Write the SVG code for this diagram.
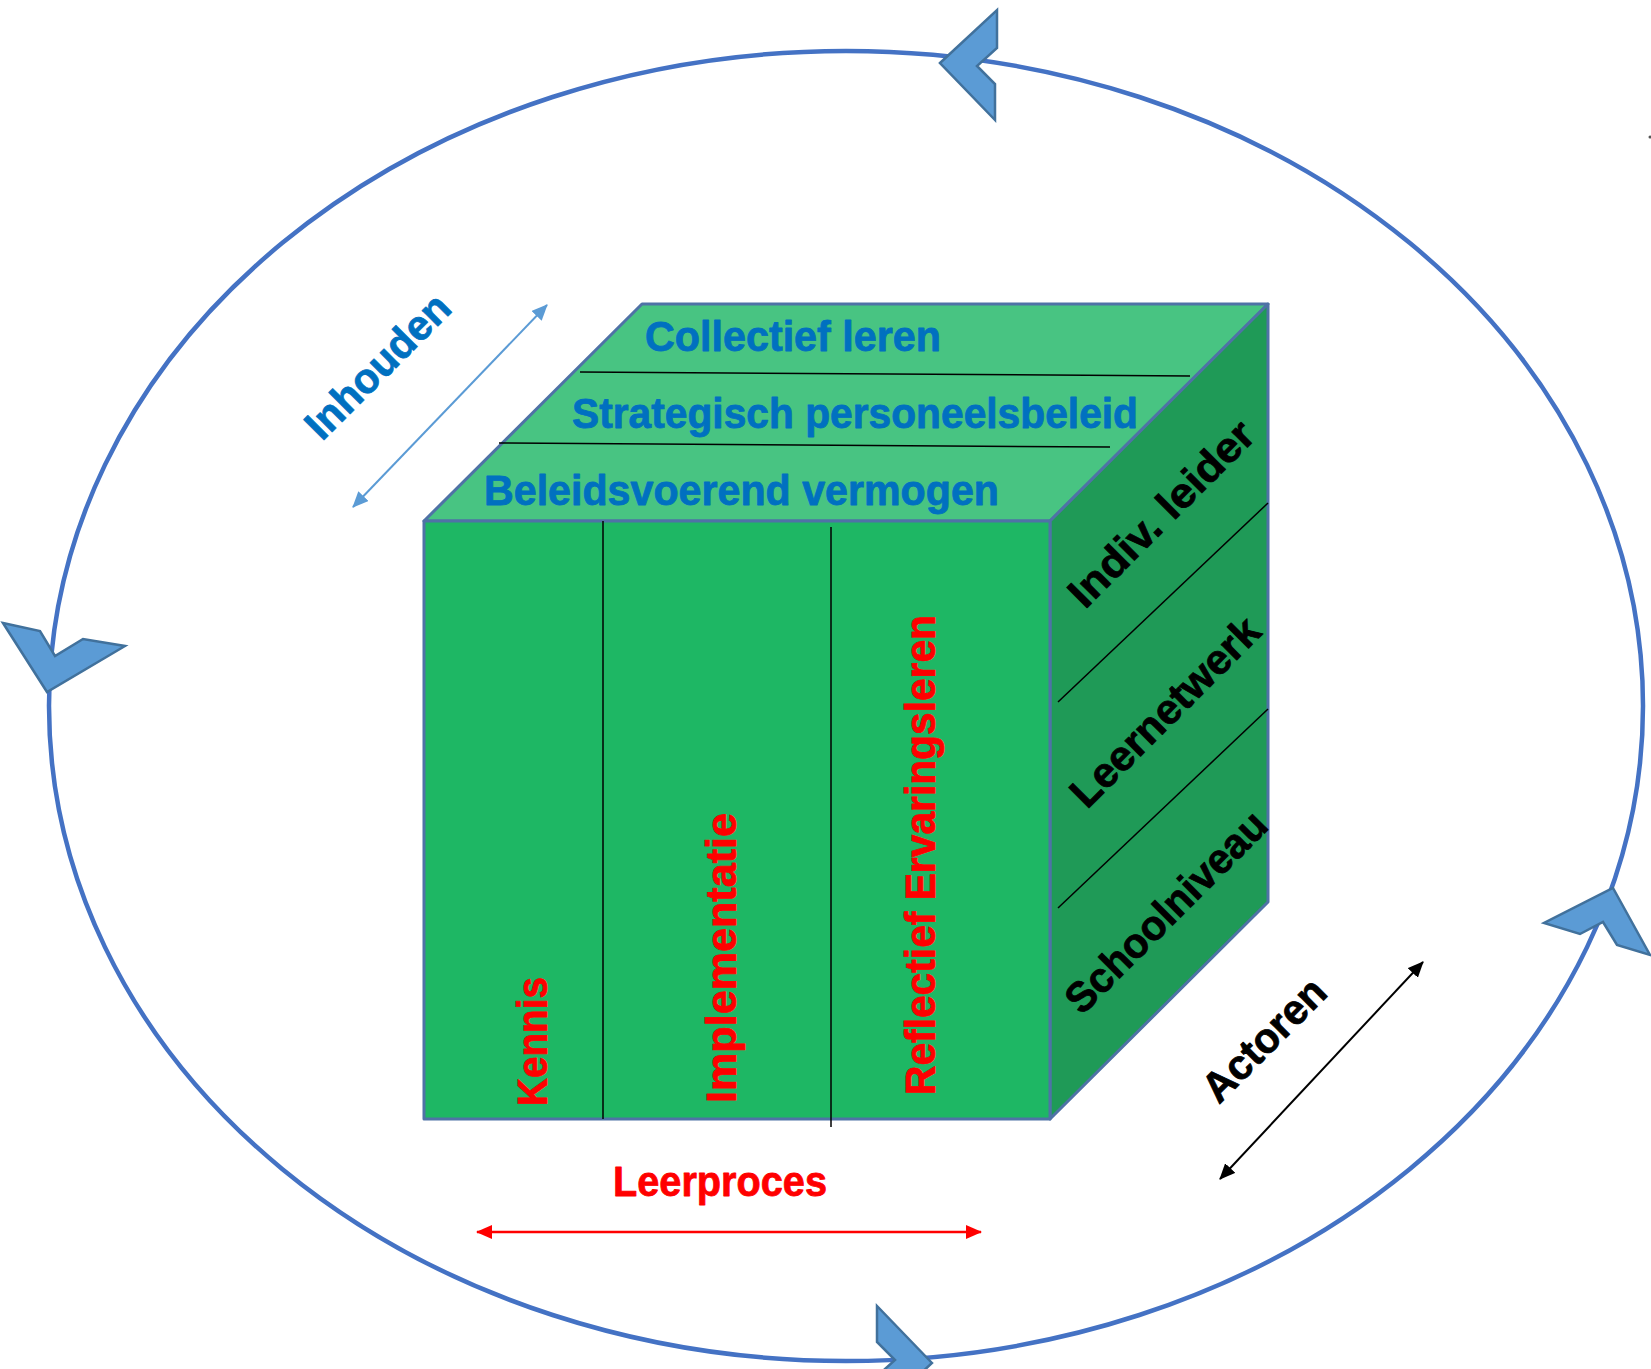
<svg xmlns="http://www.w3.org/2000/svg" width="1651" height="1369" viewBox="0 0 1651 1369">
<defs>
<style>
.t{font-family:"Liberation Sans",Arial,sans-serif;font-weight:bold;font-size:42px;stroke-width:0.8;stroke-linejoin:round}
.blue{fill:#0070C0;stroke:#0070C0}
.red{fill:#FF0000;stroke:#FF0000}
.blk{fill:#000000;stroke:#000000}
.edge{stroke:#4F72A6;stroke-width:3;stroke-linejoin:round}
.div{stroke:#000000;stroke-width:1.5;fill:none}
.chev{fill:#5B9BD5;stroke:#41719C;stroke-width:2.5;stroke-linejoin:miter}
</style>
<marker id="ahBlue" viewBox="0 0 16 14" markerWidth="16" markerHeight="14" refX="15" refY="7" orient="auto-start-reverse" markerUnits="userSpaceOnUse"><path d="M0,0 L16,7 L0,14 Z" fill="#5B9BD5"/></marker>
<marker id="ahBlack" viewBox="0 0 16 14" markerWidth="16" markerHeight="14" refX="15" refY="7" orient="auto-start-reverse" markerUnits="userSpaceOnUse"><path d="M0,0 L16,7 L0,14 Z" fill="#000000"/></marker>
<marker id="ahRed" viewBox="0 0 16 14" markerWidth="16" markerHeight="14" refX="15" refY="7" orient="auto-start-reverse" markerUnits="userSpaceOnUse"><path d="M0,0 L16,7 L0,14 Z" fill="#FF0000"/></marker>
</defs>
<rect width="1651" height="1369" fill="#FFFFFF"/>

<g id="cycle">
<ellipse cx="846" cy="706" rx="797" ry="655" fill="none" stroke="#4472C4" stroke-width="4.5"/>
<polygon class="chev" points="940,63 997,10 997,48 977,66 995,84 995,120"/>
<polygon class="chev" points="3,623 40,631 55,656 83,639 125,646 47,692"/>
<polygon class="chev" points="1613,888 1650,955 1617,945 1603,922 1580,934 1544,923"/>
<polygon class="chev" points="932,1363 877,1306 877,1342 895,1360 875,1378 875,1416"/>
</g>

<g id="cube">
<g id="top-face">
<polygon class="edge" points="424,521 1050,521 1268,304 642,304" fill="#48C482"/>
<line class="div" x1="580" y1="372" x2="1190" y2="376"/>
<line class="div" x1="499" y1="443" x2="1110" y2="447"/>
<text class="t blue" x="645" y="351" textLength="296" lengthAdjust="spacingAndGlyphs">Collectief leren</text>
<text class="t blue" x="572" y="428" textLength="566" lengthAdjust="spacingAndGlyphs">Strategisch personeelsbeleid</text>
<text class="t blue" x="484" y="505" textLength="515" lengthAdjust="spacingAndGlyphs">Beleidsvoerend vermogen</text>
</g>
<g id="right-face">
<polygon class="edge" points="1050,521 1268,304 1268,902 1050,1119" fill="#1F9A57"/>
<line class="div" x1="1058" y1="702" x2="1268" y2="503"/>
<line class="div" x1="1058" y1="908" x2="1268" y2="709"/>
<text class="t blk" font-size="44" x="1085" y="610" transform="rotate(-45 1085 610)" textLength="244" lengthAdjust="spacingAndGlyphs">Indiv. leider</text>
<text class="t blk" font-size="44" x="1087" y="810" transform="rotate(-45 1087 810)" textLength="249" lengthAdjust="spacingAndGlyphs">Leernetwerk</text>
<text class="t blk" font-size="44" x="1082" y="1016" transform="rotate(-45 1082 1016)" textLength="266" lengthAdjust="spacingAndGlyphs">Schoolniveau</text>
</g>
<g id="front-face">
<rect class="edge" x="424" y="521" width="626" height="598" fill="#1EB764"/>
<line class="div" x1="603" y1="521" x2="603" y2="1119"/>
<line class="div" x1="831" y1="527" x2="831" y2="1127"/>
<text class="t red" font-size="44" x="547" y="1106" transform="rotate(-90 547 1106)" textLength="129" lengthAdjust="spacingAndGlyphs">Kennis</text>
<text class="t red" font-size="44" x="736" y="1103" transform="rotate(-90 736 1103)" textLength="290" lengthAdjust="spacingAndGlyphs">Implementatie</text>
<text class="t red" font-size="44" x="935" y="1095" transform="rotate(-90 935 1095)" textLength="480" lengthAdjust="spacingAndGlyphs">Reflectief Ervaringsleren</text>
</g>
</g>

<g id="connectors">
<line x1="547" y1="305" x2="353" y2="507" stroke="#5B9BD5" stroke-width="2" marker-start="url(#ahBlue)" marker-end="url(#ahBlue)"/>
<line x1="1423" y1="962" x2="1220" y2="1179" stroke="#000000" stroke-width="2" marker-start="url(#ahBlack)" marker-end="url(#ahBlack)"/>
<line x1="477" y1="1232" x2="981" y2="1232" stroke="#FF0000" stroke-width="2.5" marker-start="url(#ahRed)" marker-end="url(#ahRed)"/>
</g>

<g id="labels">
<text id="inhouden" class="t blue" x="322" y="442" transform="rotate(-45 322 442)" textLength="186" lengthAdjust="spacingAndGlyphs">Inhouden</text>
<text id="actoren" class="t blk" x="1219" y="1105" transform="rotate(-45 1219 1105)" textLength="156" lengthAdjust="spacingAndGlyphs">Actoren</text>
<text id="leerproces" class="t red" x="613" y="1196" textLength="214" lengthAdjust="spacingAndGlyphs">Leerproces</text>
</g>
<circle cx="1650" cy="137" r="1.5" fill="#555555"/>
</svg>
